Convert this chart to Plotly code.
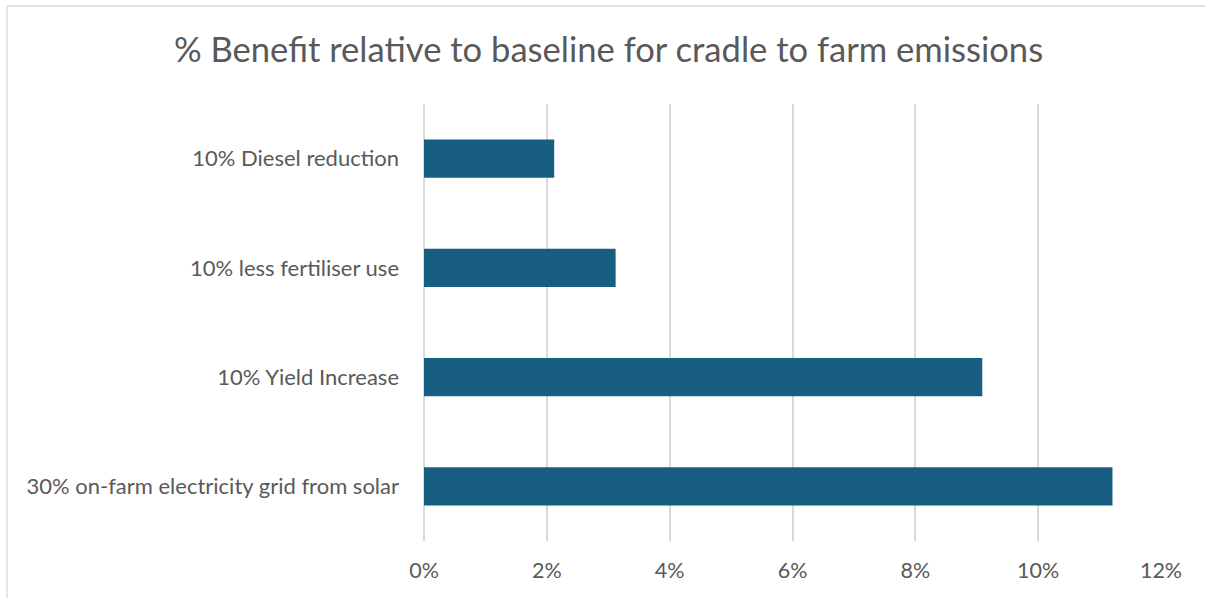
import plotly.graph_objects as go

categories = [
    "10% Diesel reduction",
    "10% less fertiliser use",
    "10% Yield Increase",
    "30% on-farm electricity grid from solar",
]
values = [0.0212, 0.0312, 0.0909, 0.1121]
tick_vals = [0, 0.02, 0.04, 0.06, 0.08, 0.10, 0.12]
tick_text = ["0%", "2%", "4%", "6%", "8%", "10%", "12%"]

W, H = 1205, 598
L, R, T, B = 424, 44, 104, 57
pw, ph = W - L - R, H - T - B

fig = go.Figure(go.Bar(
    x=values, y=categories, orientation="h",
    marker=dict(color="#175E80", line=dict(width=0)),
    width=0.35,
))

fig.update_layout(
    width=W, height=H,
    margin=dict(l=L, r=R, t=T, b=B),
    paper_bgcolor="white", plot_bgcolor="white",
    font=dict(family="Lato, Carlito, Calibri, sans-serif", color="#595959", size=22),
    title=dict(
        text="% Benefit relative to baseline for cradle to farm emissions",
        x=0.505, xanchor="center", xref="container",
        y=1 - 50 / H, yanchor="middle", yref="container",
        font=dict(size=34.6, color="#595959"),
    ),
    showlegend=False,
    bargap=0.65,
)
fig.update_xaxes(
    range=[0, 0.12], tickvals=tick_vals, ticktext=tick_text,
    showgrid=True, gridcolor="#D9D9D9", gridwidth=1.6,
    zeroline=True, zerolinecolor="#D9D9D9", zerolinewidth=1.6,
    showline=False, ticks="", ticklabelstandoff=14,
    tickfont=dict(size=21.5, color="#595959"),
)
fig.update_yaxes(
    autorange="reversed", showgrid=False, showline=False, ticks="",
    ticklabelstandoff=24, tickfont=dict(size=22, color="#595959"),
)

# chart-area border: top and left edges only (right/bottom fall outside the window)
bx0 = (7 - L) / pw
bx1 = (W + 5 - L) / pw
by1 = (H - B - 6) / ph
by0 = (H - B - H - 5) / ph
border = dict(color="#D9D9D9", width=1.3)
fig.add_shape(type="line", xref="paper", yref="paper",
              x0=bx0, x1=bx1, y0=by1, y1=by1, line=border, layer="below")
fig.add_shape(type="line", xref="paper", yref="paper",
              x0=bx0, x1=bx0, y0=by0, y1=by1, line=border, layer="below")

fig.write_html(
    "out.html",
    config={"displayModeBar": False},
    post_script="document.body.style.margin='0';document.body.style.overflow='hidden';",
)
